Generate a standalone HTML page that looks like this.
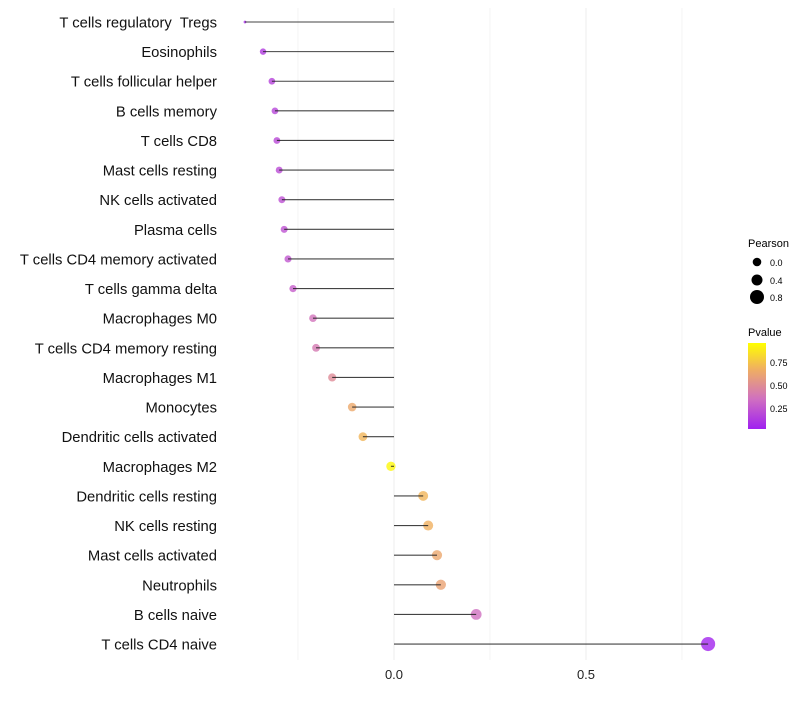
<!DOCTYPE html>
<html><head><meta charset="utf-8"><style>
body{margin:0;background:#fff;font-family:"Liberation Sans",sans-serif}
text{white-space:pre}
</style></head><body>
<svg id="chart" width="800" height="700" xmlns="http://www.w3.org/2000/svg">
<defs><linearGradient id="pg" x1="0" y1="1" x2="0" y2="0">
<stop offset="0" stop-color="#a020f0"/><stop offset="0.35" stop-color="#d070c0"/><stop offset="0.7" stop-color="#f0b060"/><stop offset="1" stop-color="#ffff00"/>
</linearGradient></defs>
<g id="grid"></g><g id="marks"></g><g id="labels"></g>
<g font-size="10">
<text x="748" y="247" font-size="11">Pearson</text>
<circle cx="757" cy="262" r="4.3" fill="#000"/><text x="770" y="266" font-size="9">0.0</text>
<circle cx="757" cy="280" r="5.5" fill="#000"/><text x="770" y="284" font-size="9">0.4</text>
<circle cx="757" cy="297" r="7" fill="#000"/><text x="770" y="301" font-size="9">0.8</text>
<text x="748" y="336" font-size="11">Pvalue</text>
<rect x="748" y="343" width="18" height="86" fill="url(#pg)"/>
<text x="770" y="366" font-size="9">0.75</text><text x="770" y="389" font-size="9">0.50</text><text x="770" y="412" font-size="9">0.25</text>
</g>
</svg>
<script>
const categories=["T cells regulatory  Tregs","Eosinophils","T cells follicular helper","B cells memory","T cells CD8","Mast cells resting","NK cells activated","Plasma cells","T cells CD4 memory activated","T cells gamma delta","Macrophages M0","T cells CD4 memory resting","Macrophages M1","Monocytes","Dendritic cells activated","Macrophages M2","Dendritic cells resting","NK cells resting","Mast cells activated","Neutrophils","B cells naive","T cells CD4 naive"];
const pearson=[-0.388,-0.341,-0.318,-0.310,-0.305,-0.299,-0.292,-0.286,-0.276,-0.263,-0.211,-0.203,-0.161,-0.109,-0.081,-0.008,0.076,0.089,0.112,0.122,0.214,0.818];
const pvalue=[0.06,0.12,0.15,0.17,0.18,0.19,0.21,0.22,0.24,0.27,0.37,0.40,0.50,0.66,0.72,0.97,0.72,0.70,0.65,0.63,0.35,0.02];
const xTicks=[0.0,0.5];
const xGrid=[-0.25,0.25,0.75];
const ns="http://www.w3.org/2000/svg";
const X=v=>394+v*384, Y=i=>22+i*29.62;
const R=v=>Math.sqrt(Math.max(2,22+34*v-(v<-0.37?7:0)));
function col(p){const s=[[0,[160,32,240]],[0.35,[208,112,192]],[0.7,[240,176,96]],[1,[255,255,0]]];
for(let i=0;i<3;i++){if(p<=s[i+1][0]){const t=(p-s[i][0])/(s[i+1][0]-s[i][0]);const c=s[i][1].map((a,k)=>Math.round(a+(s[i+1][1][k]-a)*t));return `rgb(${c})`;}}return "rgb(255,255,0)";}
function mk(t,a,p){const e=document.createElementNS(ns,t);for(const k in a)e.setAttribute(k,a[k]);p.appendChild(e);return e;}
const g=document.getElementById('grid'),m=document.getElementById('marks'),l=document.getElementById('labels');
xGrid.concat(xTicks).forEach(v=>{const e=mk('line',{x1:X(v),x2:X(v),y1:8,y2:660,stroke:'#ececec','stroke-width':xTicks.includes(v)?1:0.6},g);

});
xTicks.forEach(v=>{const t=mk('text',{x:X(v),y:679,'text-anchor':'middle','font-size':13,fill:'#222'},l);t.textContent=v.toFixed(1);

});
categories.forEach((c,i)=>{
const t=mk('text',{x:217,y:Y(i)+5.5,'text-anchor':'end','font-size':14.8,fill:'#111'},l);t.textContent=c;


const d=mk('circle',{cx:X(pearson[i]),cy:Y(i),r:R(pearson[i]),fill:col(pvalue[i]),'fill-opacity':0.8},m);


const ln=mk('line',{x1:X(0),x2:X(pearson[i]),y1:Y(i),y2:Y(i),stroke:'#222','stroke-width':1.1,'stroke-opacity':0.85},m);


});
</script>
</body></html>
